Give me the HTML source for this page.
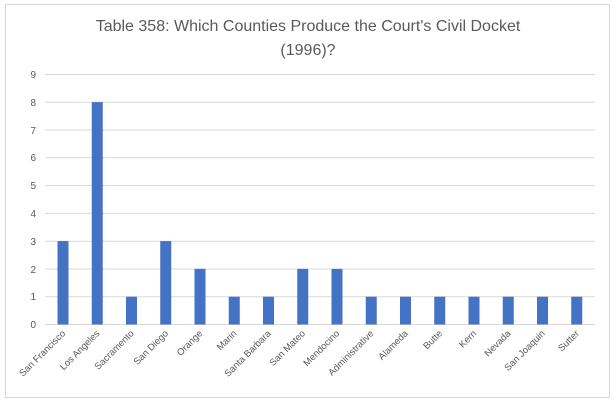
<!DOCTYPE html>
<html><head><meta charset="utf-8"><style>
html,body{margin:0;padding:0;background:#fff;}
svg{display:block;font-family:"Liberation Sans",sans-serif;}
</style></head><body>
<svg width="616" height="405" viewBox="0 0 616 405">
<rect x="5.5" y="4.5" width="604" height="393" fill="#fff" stroke="#d9d9d9"/>
<text x="308" y="31" text-anchor="middle" font-size="16" fill="#595959">Table 358: Which Counties Produce the Court's Civil Docket</text>
<text x="308" y="55" text-anchor="middle" font-size="16" fill="#595959">(1996)?</text>
<g stroke="#d9d9d9" stroke-width="1">
<line x1="45" x2="595" y1="74.5" y2="74.5"/><line x1="45" x2="595" y1="102.3" y2="102.3"/>
<line x1="45" x2="595" y1="130" y2="130"/><line x1="45" x2="595" y1="157.8" y2="157.8"/>
<line x1="45" x2="595" y1="185.6" y2="185.6"/><line x1="45" x2="595" y1="213.4" y2="213.4"/>
<line x1="45" x2="595" y1="241.2" y2="241.2"/><line x1="45" x2="595" y1="269" y2="269"/>
<line x1="45" x2="595" y1="296.7" y2="296.7"/><line x1="45" x2="595" y1="324.5" y2="324.5"/>
</g>
<g font-size="10" fill="#595959" text-anchor="end">
<text x="36" y="78">9</text><text x="36" y="106">8</text><text x="36" y="134">7</text>
<text x="36" y="161">6</text><text x="36" y="189">5</text><text x="36" y="217">4</text>
<text x="36" y="245">3</text><text x="36" y="273">2</text><text x="36" y="300">1</text>
<text x="36" y="328">0</text>
</g>
<g fill="#4472c4" id="bars"></g>
<g font-size="9.5" fill="#595959" text-anchor="end" id="labels"></g>
<script>
var names=["San Francisco","Los Angeles","Sacramento","San Diego","Orange","Marin","Santa Barbara","San Mateo","Mendocino","Administrative","Alameda","Butte","Kern","Nevada","San Joaquin","Sutter"];
var vals=[3,8,1,3,2,1,1,2,2,1,1,1,1,1,1,1];
var b=document.getElementById("bars"),l=document.getElementById("labels");
var ns="http://www.w3.org/2000/svg";
for(var i=0;i<16;i++){var cx=63+i*34.25;var h=vals[i]*27.8;
var r=document.createElementNS(ns,"rect");r.setAttribute("x",cx-5.5);r.setAttribute("width",11);r.setAttribute("y",324.5-h);r.setAttribute("height",h);b.appendChild(r);
var t=document.createElementNS(ns,"text");t.setAttribute("transform","translate("+(cx+3)+",334) rotate(-45)");t.textContent=names[i];l.appendChild(t);}
</script>
</svg>
</body></html>
